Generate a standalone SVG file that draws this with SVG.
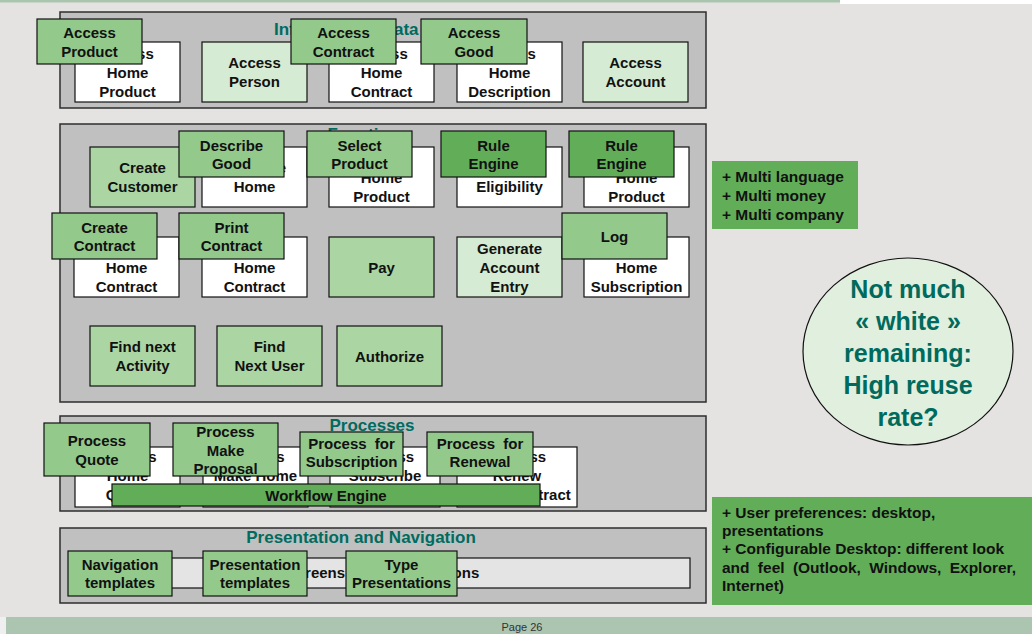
<svg xmlns="http://www.w3.org/2000/svg" width="1032" height="634" viewBox="0 0 1032 634">
<style>
text{font-family:"Liberation Sans",Arial,sans-serif;font-weight:bold;}
.panel{fill:#c0c0c0;stroke:#2e2e2e;stroke-width:1.5;}
.w{fill:#ffffff;stroke:#111;stroke-width:1.2;}
.g1{fill:#94c98c;stroke:#111;stroke-width:1.2;}
.g2{fill:#abd6a4;stroke:#111;stroke-width:1.2;}
.g3{fill:#d6ebd3;stroke:#111;stroke-width:1.2;}
.g4{fill:#62ae58;stroke:#111;stroke-width:1.2;}
.pw{fill:#e4e4e4;stroke:#111;stroke-width:1.2;}
.t{font-size:15px;fill:#111;text-anchor:middle;}
.ttl{font-size:17px;fill:#006b5f;text-anchor:middle;}
.note{font-size:15.5px;fill:#111;}
.circ{font-size:25px;fill:#006a5c;text-anchor:middle;}
</style>
<rect x="0" y="0" width="1032" height="634" fill="#e4e3e1"/>
<rect x="0" y="0" width="840" height="2.5" fill="#a9c5ae"/>
<rect x="840" y="0" width="192" height="4" fill="#ffffff"/>
<rect x="0" y="617" width="6" height="17" fill="#efefef"/>
<rect x="6" y="617" width="1026" height="17" fill="#abc5b1"/>
<text x="522" y="631" font-size="11" fill="#333" text-anchor="middle" style="font-weight:normal">Page  26</text>

<g id="connectors"></g>

<!-- Information / Data -->
<g id="panel_info">
<rect class="panel" x="60" y="12" width="646" height="96"/>
<text class="ttl" x="274" y="35" style="text-anchor:start">Information / Data</text>
</g>
<g id="n_access_home_product"><rect class="w" x="75" y="42" width="105" height="60"/><text class="t"><tspan x="127.5" y="58.5">Access</tspan><tspan x="127.5" y="77.5">Home</tspan><tspan x="127.5" y="96.5">Product</tspan></text></g>
<g id="n_access_person"><rect class="g3" x="202" y="42" width="105" height="60"/><text class="t"><tspan x="254.5" y="68">Access</tspan><tspan x="254.5" y="87">Person</tspan></text></g>
<g id="n_access_home_contract"><rect class="w" x="329" y="42" width="105" height="60"/><text class="t"><tspan x="381.5" y="58.5">Access</tspan><tspan x="381.5" y="77.5">Home</tspan><tspan x="381.5" y="96.5">Contract</tspan></text></g>
<g id="n_access_home_description"><rect class="w" x="457" y="42" width="105" height="60"/><text class="t"><tspan x="509.5" y="58.5">Access</tspan><tspan x="509.5" y="77.5">Home</tspan><tspan x="509.5" y="96.5">Description</tspan></text></g>
<g id="n_access_account"><rect class="g3" x="583" y="42" width="105" height="60"/><text class="t"><tspan x="635.5" y="68">Access</tspan><tspan x="635.5" y="87">Account</tspan></text></g>
<g id="n_access_product"><rect class="g1" x="37" y="19" width="105" height="45"/><text class="t"><tspan x="89.5" y="38">Access</tspan><tspan x="89.5" y="56.5">Product</tspan></text></g>
<g id="n_access_contract"><rect class="g1" x="291" y="19" width="105" height="45"/><text class="t"><tspan x="343.5" y="38">Access</tspan><tspan x="343.5" y="56.5">Contract</tspan></text></g>
<g id="n_access_good"><rect class="g1" x="421" y="19" width="106" height="45"/><text class="t"><tspan x="474" y="38">Access</tspan><tspan x="474" y="56.5">Good</tspan></text></g>

<!-- Functions -->
<g id="panel_functions">
<rect class="panel" x="60" y="124" width="646" height="278"/>
<text class="ttl" x="368" y="140">Functions</text>
</g>
<g id="n_create_customer"><rect class="g2" x="90" y="147" width="105" height="60"/><text class="t"><tspan x="142.5" y="173">Create</tspan><tspan x="142.5" y="192">Customer</tspan></text></g>
<g id="n_describe_home"><rect class="w" x="202" y="147" width="105" height="60"/><text class="t"><tspan x="254.5" y="173">Describe</tspan><tspan x="254.5" y="192">Home</tspan></text></g>
<g id="n_select_home_product"><rect class="w" x="329" y="147" width="105" height="60"/><text class="t"><tspan x="381.5" y="163.5">Select</tspan><tspan x="381.5" y="182.5">Home</tspan><tspan x="381.5" y="201.5">Product</tspan></text></g>
<g id="n_check_eligibility"><rect class="w" x="457" y="147" width="105" height="60"/><text class="t"><tspan x="509.5" y="173">Check</tspan><tspan x="509.5" y="192">Eligibility</tspan></text></g>
<g id="n_price_home_product"><rect class="w" x="584" y="147" width="105" height="60"/><text class="t"><tspan x="636.5" y="163.5">Price</tspan><tspan x="636.5" y="182.5">Home</tspan><tspan x="636.5" y="201.5">Product</tspan></text></g>
<g id="n_describe_good"><rect class="g1" x="179" y="131" width="105" height="46"/><text class="t"><tspan x="231.5" y="150.5">Describe</tspan><tspan x="231.5" y="169">Good</tspan></text></g>
<g id="n_select_product"><rect class="g1" x="307" y="131" width="105" height="46"/><text class="t"><tspan x="359.5" y="150.5">Select</tspan><tspan x="359.5" y="169">Product</tspan></text></g>
<g id="n_rule_engine_1"><rect class="g4" x="441" y="131" width="105" height="46"/><text class="t"><tspan x="493.5" y="150.5">Rule</tspan><tspan x="493.5" y="169">Engine</tspan></text></g>
<g id="n_rule_engine_2"><rect class="g4" x="569" y="131" width="105" height="46"/><text class="t"><tspan x="621.5" y="150.5">Rule</tspan><tspan x="621.5" y="169">Engine</tspan></text></g>

<g id="n_create_home_contract"><rect class="w" x="74" y="237" width="105" height="60"/><text class="t"><tspan x="126.5" y="253.5">Create</tspan><tspan x="126.5" y="272.5">Home</tspan><tspan x="126.5" y="291.5">Contract</tspan></text></g>
<g id="n_print_home_contract"><rect class="w" x="202" y="237" width="105" height="60"/><text class="t"><tspan x="254.5" y="253.5">Print</tspan><tspan x="254.5" y="272.5">Home</tspan><tspan x="254.5" y="291.5">Contract</tspan></text></g>
<g id="n_pay"><rect class="g2" x="329" y="237" width="105" height="60"/><text class="t" x="381.5" y="272.5">Pay</text></g>
<g id="n_generate_account_entry"><rect class="g3" x="457" y="237" width="105" height="60"/><text class="t"><tspan x="509.5" y="253.5">Generate</tspan><tspan x="509.5" y="272.5">Account</tspan><tspan x="509.5" y="291.5">Entry</tspan></text></g>
<g id="n_log_home_subscription"><rect class="w" x="584" y="237" width="105" height="60"/><text class="t"><tspan x="636.5" y="253.5">Log</tspan><tspan x="636.5" y="272.5">Home</tspan><tspan x="636.5" y="291.5">Subscription</tspan></text></g>
<g id="n_create_contract"><rect class="g1" x="52" y="213" width="105" height="46"/><text class="t"><tspan x="104.5" y="232.5">Create</tspan><tspan x="104.5" y="251">Contract</tspan></text></g>
<g id="n_print_contract"><rect class="g1" x="179" y="213" width="105" height="46"/><text class="t"><tspan x="231.5" y="232.5">Print</tspan><tspan x="231.5" y="251">Contract</tspan></text></g>
<g id="n_log"><rect class="g1" x="562" y="213" width="105" height="46"/><text class="t" x="614.5" y="242">Log</text></g>

<g id="n_find_next_activity"><rect class="g2" x="90" y="326" width="105" height="60"/><text class="t"><tspan x="142.5" y="352">Find next</tspan><tspan x="142.5" y="371">Activity</tspan></text></g>
<g id="n_find_next_user"><rect class="g2" x="217" y="326" width="105" height="60"/><text class="t"><tspan x="269.5" y="352">Find</tspan><tspan x="269.5" y="371">Next User</tspan></text></g>
<g id="n_authorize"><rect class="g2" x="337" y="326" width="105" height="60"/><text class="t" x="389.5" y="361.5">Authorize</text></g>

<!-- Processes -->
<g id="panel_processes">
<rect class="panel" x="60" y="416" width="646" height="95"/>
<text class="ttl" x="372" y="431">Processes</text>
</g>
<g id="n_process_home_quote"><rect class="w" x="75" y="447" width="105" height="60"/><text class="t"><tspan x="127.5" y="462">Process</tspan><tspan x="127.5" y="481">Home</tspan><tspan x="127.5" y="500">Quote</tspan></text></g>
<g id="n_process_make_home_proposal"><rect class="w" x="203" y="447" width="105" height="60"/><text class="t"><tspan x="255.5" y="462">Process</tspan><tspan x="255.5" y="481">Make Home</tspan><tspan x="255.5" y="500">Proposal</tspan></text></g>
<g id="n_process_subscribe"><rect class="w" x="330" y="447" width="110" height="60"/><text class="t"><tspan x="385" y="462">Process</tspan><tspan x="385" y="481">Subscribe</tspan><tspan x="385" y="500">Home Contract</tspan></text></g>
<g id="n_process_renew"><rect class="w" x="457" y="447" width="120" height="60"/><text class="t"><tspan x="517" y="462">Process</tspan><tspan x="517" y="481">Renew</tspan><tspan x="517" y="500">Home Contract</tspan></text></g>
<g id="n_process_quote"><rect class="g1" x="44" y="423" width="106" height="53"/><text class="t"><tspan x="97" y="446">Process</tspan><tspan x="97" y="465">Quote</tspan></text></g>
<g id="n_process_make_proposal"><rect class="g1" x="173" y="423" width="105" height="53"/><text class="t"><tspan x="225.5" y="437">Process</tspan><tspan x="225.5" y="455.5">Make</tspan><tspan x="225.5" y="474">Proposal</tspan></text></g>
<g id="n_process_for_subscription"><rect class="g1" x="300" y="432" width="103" height="44"/><text class="t"><tspan x="351.5" y="449" word-spacing="4">Process for</tspan><tspan x="351.5" y="467">Subscription</tspan></text></g>
<g id="n_process_for_renewal"><rect class="g1" x="427" y="432" width="106" height="44"/><text class="t"><tspan x="480" y="449" word-spacing="4">Process for</tspan><tspan x="480" y="467">Renewal</tspan></text></g>
<g id="n_workflow_engine"><rect class="g4" x="112" y="484" width="428" height="22"/><text class="t" x="326" y="500.5">Workflow Engine</text></g>

<!-- Presentation and Navigation -->
<g id="panel_presentation">
<rect class="panel" x="60" y="528" width="646" height="75"/>
<text class="ttl" x="361" y="543">Presentation and Navigation</text>
</g>
<g id="n_screens"><rect class="pw" x="75" y="558" width="615" height="30"/><text class="t" x="383" y="578">Screens and Presentations</text></g>
<g id="n_navigation_templates"><rect class="g1" x="68" y="551" width="104" height="45"/><text class="t"><tspan x="120" y="569.5">Navigation</tspan><tspan x="120" y="588">templates</tspan></text></g>
<g id="n_presentation_templates"><rect class="g1" x="203" y="551" width="104" height="45"/><text class="t"><tspan x="255" y="569.5">Presentation</tspan><tspan x="255" y="588">templates</tspan></text></g>
<g id="n_type_presentations"><rect class="g1" x="346" y="551" width="111" height="45"/><text class="t"><tspan x="401.5" y="569.5">Type</tspan><tspan x="401.5" y="588">Presentations</tspan></text></g>

<!-- Notes -->
<g id="n_multi"><rect x="712" y="161" width="146" height="68" fill="#62ae58"/><text class="note"><tspan x="722" y="182">+ Multi language</tspan><tspan x="722" y="201">+ Multi money</tspan><tspan x="722" y="220">+ Multi company</tspan></text></g>
<g id="n_user_prefs"><rect x="712" y="497" width="320" height="108" fill="#62ae58"/><text class="note"><tspan x="722" y="518">+ User preferences: desktop,</tspan><tspan x="722" y="536.2">presentations</tspan><tspan x="722" y="554.4">+ Configurable Desktop: different look</tspan><tspan x="722" y="572.6" word-spacing="4">and feel (Outlook, Windows, Explorer,</tspan><tspan x="722" y="590.8">Internet)</tspan></text></g>
<g id="n_reuse"><ellipse cx="908" cy="351.5" rx="105" ry="93.5" fill="#e1efdf" stroke="#111" stroke-width="1.2"/><text class="circ"><tspan x="908" y="298">Not much</tspan><tspan x="908" y="330">« white »</tspan><tspan x="908" y="362">remaining:</tspan><tspan x="908" y="394">High reuse</tspan><tspan x="908" y="426">rate?</tspan></text></g>
</svg>
